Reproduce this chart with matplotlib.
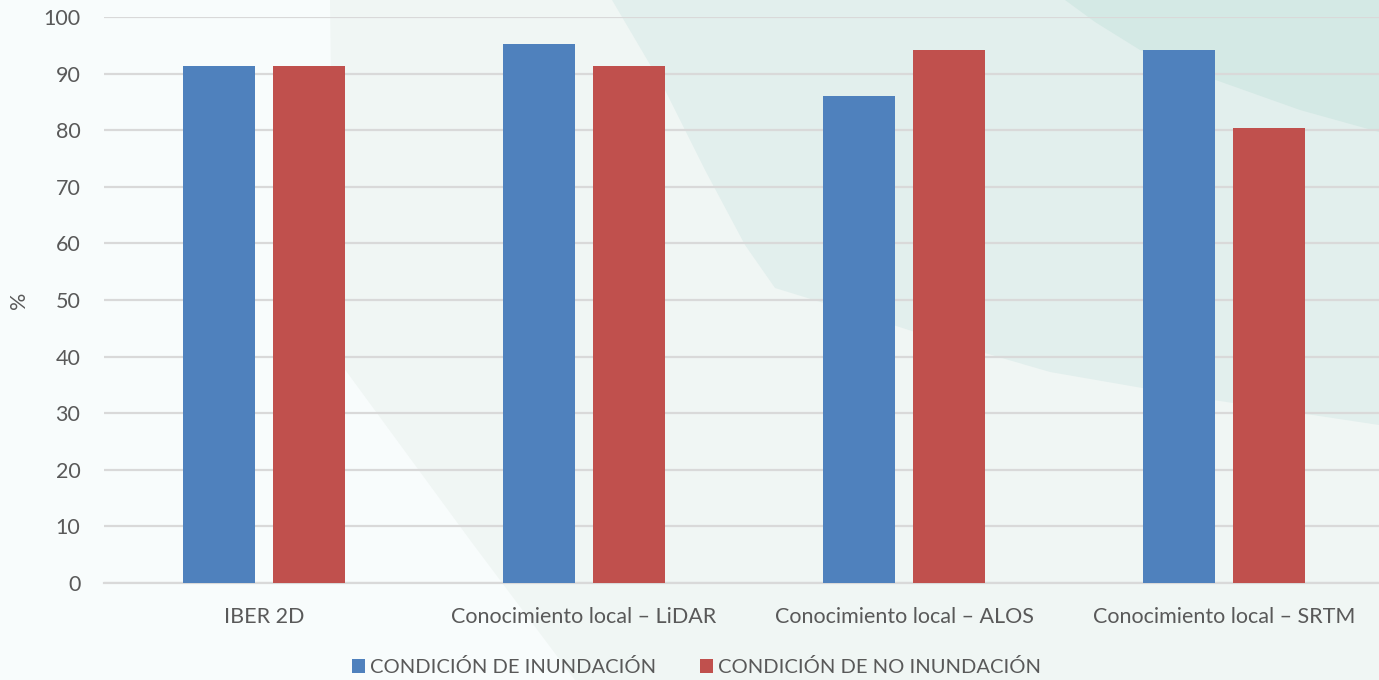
import numpy as np
import matplotlib.pyplot as plt
from matplotlib.patches import Polygon

categorias = ['IBER 2D', 'Conocimiento local – LiDAR',
              'Conocimiento local – ALOS', 'Conocimiento local – SRTM']
inundacion = [91.3, 95.2, 86.0, 94.2]
no_inundacion = [91.3, 91.3, 94.2, 80.4]
series = ['CONDICIÓN DE INUNDACIÓN', 'CONDICIÓN DE NO INUNDACIÓN']

azul = '#4f81bd'
rojo = '#c0504d'
gris = '#595959'

plt.rcParams['font.family'] = ['Lato', 'DejaVu Sans']

W, H = 1379, 680
fig = plt.figure(figsize=(W / 100, H / 100), dpi=100)
fig.patch.set_facecolor('#f8fcfc')

# soft background shapes, pixel coordinates
bg = fig.add_axes([0, 0, 1, 1], zorder=-1)
bg.set_xlim(0, W)
bg.set_ylim(H, 0)
bg.axis('off')
zona_a = [(330, 0), (W, 0), (W, H), (575, H), (470, 540), (338, 360), (332, 150)]
zona_b = [(612, 0), (W, 0), (W, 425), (1200, 398), (1050, 372), (940, 340),
          (840, 308), (775, 288), (745, 245), (705, 170), (665, 90)]
zona_c = [(1065, 0), (W, 0), (W, 132), (1300, 110), (1210, 78), (1140, 50), (1095, 22)]
bg.add_patch(Polygon(zona_a, closed=True, fc='#f0f6f4', ec='none'))
bg.add_patch(Polygon(zona_b, closed=True, fc='#e2efed', ec='none'))
bg.add_patch(Polygon(zona_c, closed=True, fc='#d4e9e5', ec='none'))

ax = fig.add_axes([104 / W, 1 - 583 / H, 1280 / W, 566 / H])
ax.set_facecolor('none')

x = np.arange(len(categorias))
ancho = 0.225
ax.bar(x - 0.14, inundacion, ancho, color=azul, label=series[0], zorder=3)
ax.bar(x + 0.14, no_inundacion, ancho, color=rojo, label=series[1], zorder=3)

ax.set_xlim(-0.5, len(categorias) - 0.5)
ax.set_ylim(0, 100)
ax.set_yticks(np.arange(0, 101, 10))
ax.yaxis.grid(True, color='#d9d9d9', linewidth=1.6, zorder=0)
ax.set_axisbelow(True)
for s in ['top', 'right', 'left']:
    ax.spines[s].set_visible(False)
ax.spines['bottom'].set_color('#d9d9d9')
ax.spines['bottom'].set_linewidth(1.6)
ax.tick_params(axis='both', length=0, labelsize=15.5, labelcolor=gris)
ax.tick_params(axis='y', pad=17)
ax.tick_params(axis='x', pad=17)
ax.set_xticks(x)
ax.set_xticklabels(categorias)
ax.set_ylabel('%', fontsize=15.5, color=gris, labelpad=10)

fig.legend(loc='center', bbox_to_anchor=(0.505, 1 - 667 / H), ncol=2,
           frameon=False, fontsize=14.5, handlelength=0.65, handleheight=0.65,
           handletextpad=0.25, columnspacing=2.2, labelcolor=gris)

fig.savefig('out.png', dpi=100, facecolor=fig.get_facecolor())
